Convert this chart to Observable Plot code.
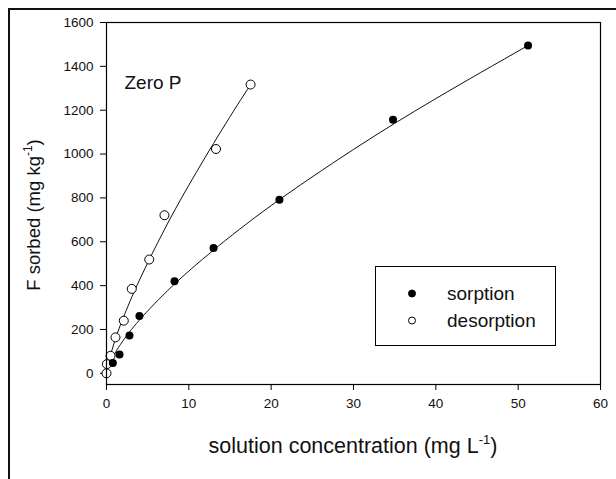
<!DOCTYPE html>
<html><head><meta charset="utf-8">
<script src="https://cdn.jsdelivr.net/npm/d3@7"></script>
<script src="https://cdn.jsdelivr.net/npm/@observablehq/plot@0.6"></script>
<style>
body{margin:0;background:#fff;font-family:"Liberation Sans",Arial,sans-serif;}
#wrap{position:relative;width:616px;height:479px;overflow:hidden;}
#border{position:absolute;left:8px;top:8px;width:640px;height:500px;border-top:2px solid #111;border-left:2px solid #111;pointer-events:none;}
#legend{position:absolute;left:375px;top:266px;width:179px;height:78px;border:1px solid #000;background:#fff;}
.lg{position:absolute;left:0;font-size:19px;color:#111;line-height:19px;}
</style></head>
<body><div id="wrap"><div id="border"></div><div id="legend"></div></div>
<script>
// measured points
const sorptionX = [0.77, 1.58, 2.79, 4.0, 8.26, 13.0, 21.0, 34.8, 51.2];
const sorptionY = [47, 86, 173, 261, 420, 571, 792, 1157, 1495];
const desorptionX = [0.0, 0.05, 0.49, 1.09, 2.1, 3.07, 5.19, 7.04, 13.3, 17.5];
const desorptionY = [0, 42, 80, 164, 240, 385, 519, 721, 1023, 1317];
// fitted curves
const sorptionFitX = [0.3, 1, 2, 4, 8, 13, 20, 30, 40, 51.2];
const sorptionFitY = [38, 90, 148, 243, 398, 562, 765, 1021, 1253, 1495];
const desorptionFitX = [0.3, 1, 2, 4, 7, 10, 14, 17.5];
const desorptionFitY = [58, 147, 250, 425, 653, 858, 1110, 1317];
// ticks and labels
const xTicks = [0, 10, 20, 30, 40, 50, 60];
const yTicks = [0, 200, 400, 600, 800, 1000, 1200, 1400, 1600];
const seriesNames = ["sorption", "desorption"];
const panelLabel = ["Zero P"];

const sorption = sorptionX.map((x, i) => ({x, y: sorptionY[i]}));
const desorption = desorptionX.map((x, i) => ({x, y: desorptionY[i]}));
const sorptionFit = sorptionFitX.map((x, i) => ({x, y: sorptionFitY[i]}));
const desorptionFit = desorptionFitX.map((x, i) => ({x, y: desorptionFitY[i]}));

const chart = Plot.plot({
  width: 616,
  height: 479,
  marginLeft: 106,
  marginRight: 16,
  marginTop: 22,
  marginBottom: 95,
  style: {fontFamily: '"Liberation Sans", Arial, sans-serif', fontSize: "13.5px", color: "#111", background: "transparent"},
  x: {domain: [0, 60], label: null},
  y: {domain: [-51, 1600], label: null},
  marks: [
    Plot.axisX({ticks: xTicks, tickFormat: d => String(d), tickSize: 6, tickPadding: 8, label: null, stroke: "#000"}),
    Plot.axisY({ticks: yTicks, tickFormat: d => String(d), tickSize: 6, tickPadding: 7, label: null, stroke: "#000"}),
    Plot.line(sorptionFit, {x: "x", y: "y", curve: "natural", stroke: "#111", strokeWidth: 1}),
    Plot.line(desorptionFit, {x: "x", y: "y", curve: "natural", stroke: "#111", strokeWidth: 1}),
    Plot.dot(desorption, {x: "x", y: "y", r: 4.5, fill: "#fff", stroke: "#000", strokeWidth: 1}),
    Plot.dot(sorption, {x: "x", y: "y", r: 4, fill: "#000", stroke: "none"}),
    Plot.text(panelLabel, {text: d => d, frameAnchor: "top-left", dx: 18, dy: 60, textAnchor: "start", lineAnchor: "middle", fontSize: 19, fill: "#111"}),
    Plot.frame({stroke: "#000", strokeWidth: 1.2})
  ]
});
const wrap = document.getElementById("wrap");
wrap.insertBefore(chart, wrap.firstChild);
chart.style.position = "absolute"; chart.style.left = "0"; chart.style.top = "0";

const svg = d3.select(chart);
// axis titles with superscripts
const xt = svg.append("text").attr("x", 353).attr("y", 453).attr("text-anchor", "middle")
  .attr("font-size", 21.5).attr("fill", "#111");
xt.append("tspan").text("solution concentration (mg L");
xt.append("tspan").attr("font-size", 13).attr("dy", -9).text("-1");
xt.append("tspan").attr("dy", 9).text(")");
const yt = svg.append("text").attr("transform", "translate(40,215) rotate(-90)").attr("text-anchor", "middle")
  .attr("font-size", 18.5).attr("fill", "#111");
yt.append("tspan").text("F sorbed (mg kg");
yt.append("tspan").attr("font-size", 12).attr("dy", -8).text("-1");
yt.append("tspan").attr("dy", 8).text(")");

// legend
const legend = document.getElementById("legend");
seriesNames.forEach((name, i) => {
  const row = document.createElement("div");
  row.className = "lg";
  row.style.top = (17 + i * 27) + "px";
  row.innerHTML = `<svg width="40" height="19" style="position:absolute;left:20px;top:0"><circle cx="16" cy="9.5" r="3.5" fill="${i === 0 ? "#000" : "#fff"}" stroke="#000" stroke-width="1"/></svg><span style="position:absolute;left:71px;white-space:nowrap">${name}</span>`;
  legend.appendChild(row);
});
</script>
</body></html>
